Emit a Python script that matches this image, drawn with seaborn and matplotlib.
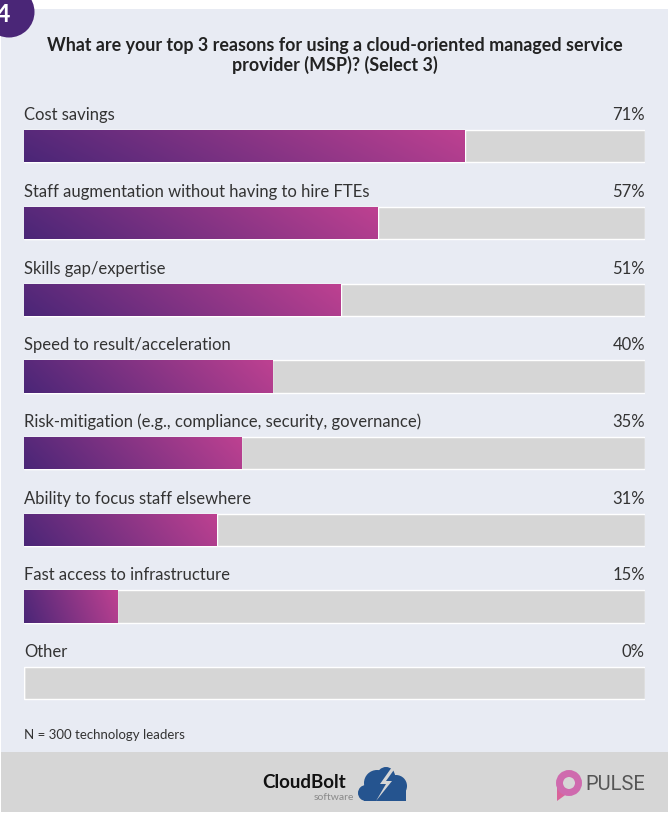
import numpy as np
import pandas as pd
import matplotlib
matplotlib.use("Agg")
import matplotlib.pyplot as plt
from matplotlib.patches import Rectangle, Circle, Polygon
from matplotlib.colors import to_rgb
import seaborn as sns

# Survey responses
categories = [
    "Cost savings",
    "Staff augmentation without having to hire FTEs",
    "Skills gap/expertise",
    "Speed to result/acceleration",
    "Risk-mitigation (e.g., compliance, security, governance)",
    "Ability to focus staff elsewhere",
    "Fast access to infrastructure",
    "Other",
]
shares = [71, 57, 51, 40, 35, 31, 15, 0]
track = [100] * len(categories)

title = ("What are your top 3 reasons for using a cloud-oriented managed service\n"
         "provider (MSP)? (Select 3)")
footnote = "N = 300 technology leaders"

PANEL = "#E8EBF3"
TRACK = "#D6D6D6"
DARK = "#4A2677"
PINK = "#BE4191"
TEXT = "#333333"

sns.set_theme(style="white")
plt.rcParams["font.family"] = ["Lato", "DejaVu Sans"]

fig = plt.figure(figsize=(6.7, 8.15), dpi=100, facecolor="white")

# Background layer in pixel units
bg = fig.add_axes([0, 0, 1, 1], zorder=0)
bg.set_xlim(0, 670)
bg.set_ylim(815, 0)
bg.axis("off")
bg.add_patch(Rectangle((1, 9), 667, 743, color=PANEL, lw=0))
bg.add_patch(Rectangle((1, 752), 667, 60, color=TRACK, lw=0))
bg.add_patch(Circle((9, 12), 25.5, color="#4A2677", lw=0))
bg.text(3, 15, "4", color="white", fontsize=18, fontweight="bold",
        ha="center", va="center")
bg.text(335, 55.5, title, ha="center", va="center", fontsize=12.9,
        fontweight="bold", color="#222222", linespacing=1.15)
bg.text(24, 735, footnote, fontsize=9.5, color=TEXT, va="center")

# CloudBolt logo
bg.text(262, 782, "CloudBolt", fontsize=13.5, fontweight="bold", color="#111111",
        va="center", ha="left")
bg.text(334, 797, "software", fontsize=7.5, color="#8a8a8a", ha="center", va="center")
blue = "#25548F"
for (cx, cy, r) in [(377, 783, 13), (396, 786, 11), (366, 793, 8), (386, 776, 9)]:
    bg.add_patch(Circle((cx, cy), r, color=blue, lw=0))
bg.add_patch(Rectangle((364, 790), 42, 11, color=blue, lw=0))
bg.add_patch(Polygon([(392, 767), (380, 784), (386, 784), (376, 801),
                      (392, 781), (386, 781), (396, 767)], color=TRACK, lw=0))

# PULSE logo
bg.add_patch(Polygon([(557, 784), (557, 801), (568, 793)], color="#D9639A", lw=0))
bg.add_patch(Circle((569, 783), 9.5, fill=False, lw=5, edgecolor="#CF6AAE"))
bg.text(585, 784, "PULSE", fontsize=14.5, color="#555555", va="center",
        ha="left", family=["Roboto", "DejaVu Sans"])

# Bar chart
df = pd.DataFrame({"reason": categories, "share": shares, "track": track})
ax = fig.add_axes([24 / 670, 1 - 721.5 / 815, 621 / 670, 613.5 / 815], zorder=1)
ax.patch.set_alpha(0)
sns.barplot(data=df, x="track", y="reason", color=TRACK, width=0.42,
            saturation=1, ax=ax, orient="h")
n_track = len(ax.patches)
sns.barplot(data=df, x="share", y="reason", color=DARK, width=0.42,
            saturation=1, ax=ax, orient="h")

# Diagonal purple-to-pink fill on each value bar
c0, c1 = np.array(to_rgb(DARK)), np.array(to_rgb(PINK))
u = np.linspace(0, 1, 256)[None, :]
v = np.linspace(1, 0, 24)[:, None]
t = np.clip(0.88 * u + 0.12 * v, 0, 1)
grad = c0[None, None, :] * (1 - t[..., None]) + c1[None, None, :] * t[..., None]
for p in ax.patches[n_track:]:
    x0, y0, w, h = p.get_x(), p.get_y(), p.get_width(), p.get_height()
    if w <= 0:
        continue
    im = ax.imshow(grad, extent=(x0, x0 + w, y0 + h, y0), aspect="auto",
                   origin="upper", zorder=p.get_zorder() + 0.1, interpolation="bilinear")
    im.set_clip_path(p)

for i, (cat, val) in enumerate(zip(categories, shares)):
    ax.text(0, i - 0.405, cat, ha="left", va="center", fontsize=12, color=TEXT)
    ax.text(100, i - 0.405, f"{val}%", ha="right", va="center", fontsize=12, color=TEXT)

ax.set_xlim(0, 100)
ax.set_ylim(len(categories) - 0.5, -0.5)
ax.axis("off")

fig.savefig("out.png", dpi=100, facecolor="white")
